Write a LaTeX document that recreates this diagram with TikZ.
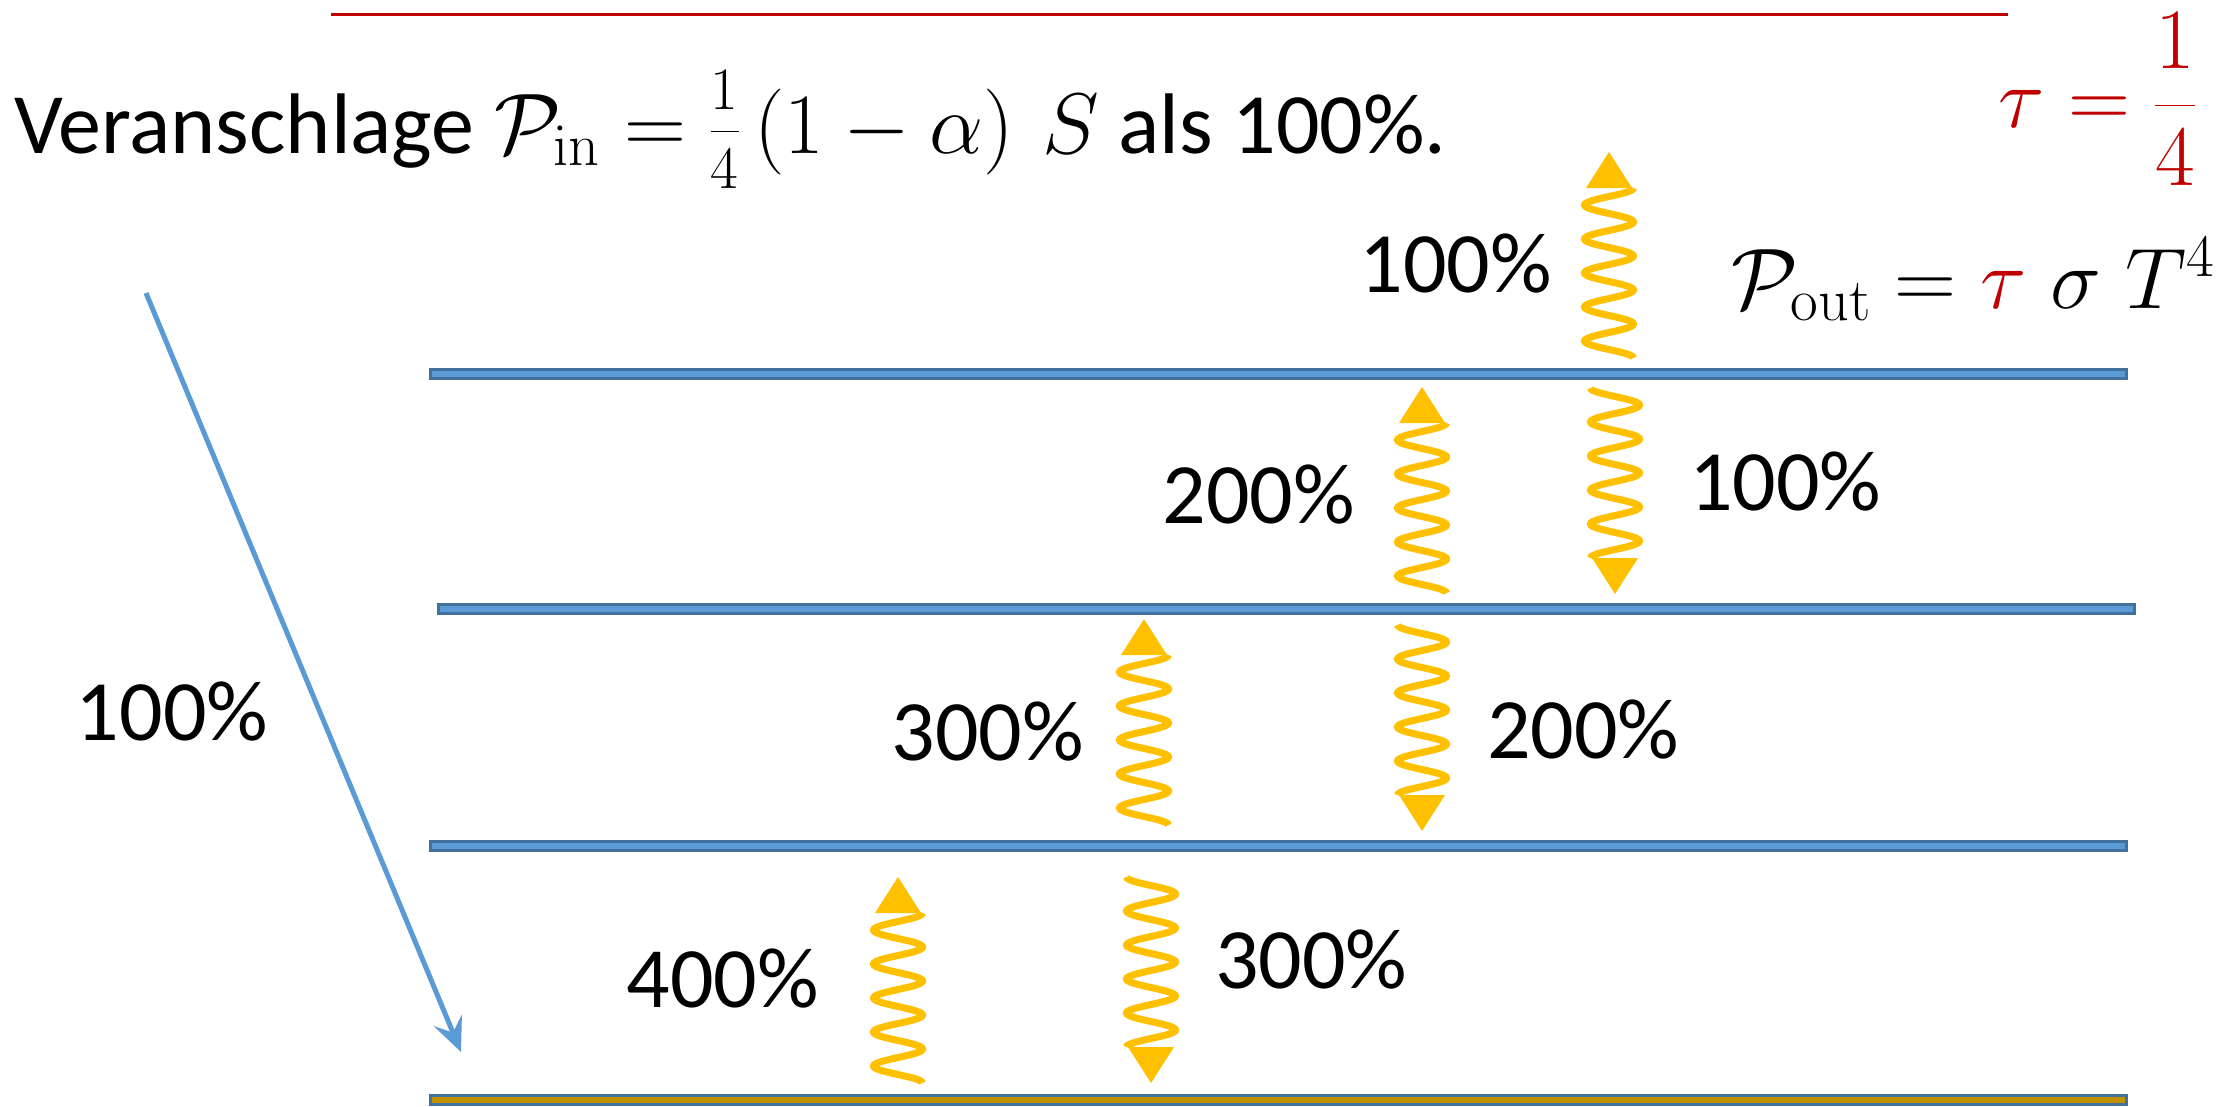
\RequirePackage{fix-cm}
\documentclass[tikz,border=0pt]{standalone}
\usepackage[no-math]{fontspec}
\setmainfont{Carlito}
\usetikzlibrary{arrows.meta}
\definecolor{waveyellow}{HTML}{FFC000}
\definecolor{layerfill}{HTML}{5B9BD5}
\definecolor{layerborder}{HTML}{41719C}
\definecolor{groundfill}{HTML}{BF9000}
\definecolor{darkred}{HTML}{C00000}
\newcommand\bigtxt{\fontsize{86}{100}\selectfont}
\newcommand\wavyarrow[3]{%
  \begin{scope}[shift={(#1,#2)}, rotate=#3]
    \draw[waveline] plot[domain=0:5, samples=161, smooth] ({24.5*cos(360*\x)}, {-34*\x});
    \fill[waveyellow] (-23,-170) -- (23,-170) -- (0,-206) -- cycle;
  \end{scope}}
\begin{document}
\begin{tikzpicture}[x=1pt, y=-1pt,
  every node/.style={font=\bigtxt, inner sep=0pt, outer sep=0pt},
  waveline/.style={draw=waveyellow, line width=7pt},
  layer/.style={draw=layerborder, fill=layerfill, line width=3pt},
  ground/.style={draw=layerborder, fill=groundfill, line width=3pt},
  inarrow/.style={draw=layerfill, line width=5pt, -{Stealth[length=34pt, width=30pt, inset=13pt]}}]
\useasboundingbox (0,0) rectangle (2240,1106);
\fill[white] (0,0) rectangle (2240,1106);

% red rule at the top
\coordinate (r1) at (331,14);
\coordinate (r2) at (2008,14);
\draw[darkred, line width=3pt] (r1) -- (r2);

% headline
\node[anchor=base west] (head) at (14,153)
  {Veranschlage $\mathcal{P}_{\mathrm{in}} = \frac{1\rule[-21pt]{0pt}{1pt}}{\rule{0pt}{56pt}4}\left(1-\alpha\vphantom{\rule[-14pt]{0pt}{62pt}}\right)\,S$ als 100\%.};
\node[anchor=base west, text=darkred] (tau) at (1998,127)
  {$\displaystyle\tau=\frac{1}{4}$};
\node[anchor=base west] (pout) at (1731,308)
  {$\mathcal{P}_{\mathrm{out}} = {\color{darkred}\tau}\;\sigma\;T^{4}$};

% layers
\draw[layer] (430.5,369.5) rectangle (2126.5,378.5);
\draw[layer] (438.5,604.5) rectangle (2134.5,613.5);
\draw[layer] (430.5,841.5) rectangle (2126.5,850.5);
\draw[ground] (430.5,1095.5) rectangle (2126.5,1104.5);

% incoming sunlight
\coordinate (sunA) at (146,293);
\coordinate (sunB) at (461,1052);
\draw[inarrow] (sunA) -- (sunB);
\node[anchor=base] (lsun) at (172,740) {100\%};

% wavy arrows: x, tail y, rotation (0 = up, 180 = down)
\wavyarrow{1609}{358}{0}
\wavyarrow{1422}{593}{0}
\wavyarrow{1615}{388}{180}
\wavyarrow{1144}{825}{0}
\wavyarrow{1422}{625}{180}
\wavyarrow{898}{1083}{0}
\wavyarrow{1151}{877}{180}

% labels
\node[anchor=base east] (l1) at (1552,292) {100\%};
\node[anchor=base east] (l2) at (1355,523) {200\%};
\node[anchor=base west] (l3) at (1689,510) {100\%};
\node[anchor=base east] (l4) at (1084,760) {300\%};
\node[anchor=base west] (l5) at (1487,758) {200\%};
\node[anchor=base east] (l6) at (819,1007) {400\%};
\node[anchor=base west] (l7) at (1215,988) {300\%};
\end{tikzpicture}
\end{document}
